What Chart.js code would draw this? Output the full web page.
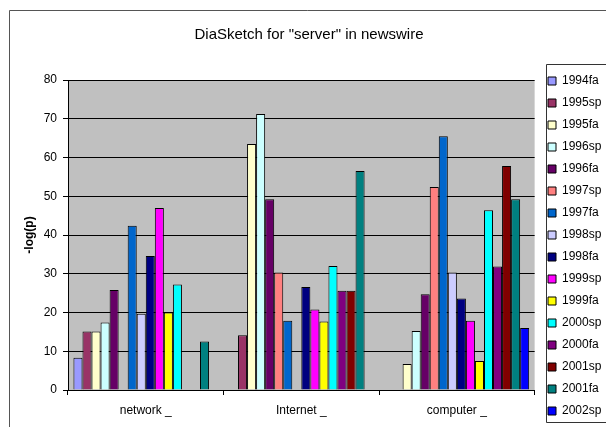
<!DOCTYPE html>
<html>
<head>
<meta charset="utf-8">
<script src="https://cdn.jsdelivr.net/npm/chart.js@4/dist/chart.umd.min.js"></script>
<style>
  html, body { margin: 0; padding: 0; background: #ffffff; }
  #wrap { width: 606px; height: 427px; position: relative; }
</style>
</head>
<body>
<div id="wrap"><canvas id="c" width="606" height="427"></canvas></div>
<script>
// ---- data ----
const categories = ["network _", "Internet _", "computer _"];
const seriesLabels = ["1994fa", "1995sp", "1995fa", "1996sp", "1996fa", "1997sp", "1997fa", "1998sp",
                      "1998fa", "1999sp", "1999fa", "2000sp", "2000fa", "2001sp", "2001fa", "2002sp"];
const networkValues  = [8.3, 15.1, 15.1, 17.4, 25.8, 0, 42.4, 19.7, 34.6, 47.0, 20.0, 27.2, 0, 0, 12.5, 0];
const internetValues = [0, 14.1, 63.5, 71.2, 49.2, 30.3, 17.9, 0, 26.6, 20.8, 17.7, 32.0, 25.6, 25.6, 56.5, 0];
const computerValues = [0, 0, 6.7, 15.2, 24.7, 52.4, 65.5, 30.3, 23.6, 17.9, 7.5, 46.4, 31.9, 57.8, 49.2, 16.0];
const yTicks = [0, 10, 20, 30, 40, 50, 60, 70, 80];

const seriesColors = ["#9999FF", "#993366", "#FFFFCC", "#CCFFFF", "#660066", "#FF8080", "#0066CC", "#CCCCFF",
                      "#000080", "#FF00FF", "#FFFF00", "#00FFFF", "#800080", "#800000", "#008080", "#0000FF"];

const datasets = seriesLabels.map((lab, i) => ({
  label: lab,
  data: [networkValues[i], internetValues[i], computerValues[i]],
  backgroundColor: seriesColors[i],
  borderColor: "#000000",
  borderWidth: 1,
  categoryPercentage: 0.93,
  barPercentage: 1.0
}));

const FONT = "'Liberation Sans', Arial, sans-serif";

const decor = {
  id: "decor",
  afterLayout(chart) {
    const lg = chart.legend;
    if (lg) {
      const w = lg.right - lg.left;
      lg.left = 538; lg.right = lg.left + w;
      lg.top = 65; lg.bottom = 440;
    }
    const tb = chart.titleBlock;
    if (tb) {
      const shift = 309 - (tb.left + tb.right) / 2;
      tb.left += shift; tb.right += shift;
    }
  },
  beforeDraw(chart) {
    const {ctx, chartArea: a} = chart;
    ctx.save();
    ctx.fillStyle = "#ffffff";
    ctx.fillRect(0, 0, chart.width, chart.height);
    ctx.fillStyle = "#C0C0C0";
    ctx.fillRect(a.left, a.top, a.right - a.left, a.bottom - a.top);
    // outer chart border
    ctx.strokeStyle = "#555555";
    ctx.lineWidth = 1;
    ctx.beginPath();
    ctx.moveTo(9.5, 427);
    ctx.lineTo(9.5, 10.5);
    ctx.lineTo(606, 10.5);
    ctx.stroke();
    // legend border
    ctx.strokeStyle = "#333333";
    ctx.beginPath();
    ctx.moveTo(610, 64.5);
    ctx.lineTo(546.5, 64.5);
    ctx.lineTo(546.5, 422.5);
    ctx.lineTo(610, 422.5);
    ctx.stroke();
    ctx.restore();
  }
};

new Chart(document.getElementById("c"), {
  type: "bar",
  data: { labels: categories, datasets },
  options: {
    responsive: false,
    animation: false,
    devicePixelRatio: 1,
    layout: { padding: { left: 10, top: 10, right: -2, bottom: 0 } },
    plugins: {
      title: {
        display: true,
        fullSize: false,
        text: 'DiaSketch for "server" in newswire',
        color: "#000000",
        font: { family: FONT, size: 15, weight: "normal" },
        padding: { top: 16, bottom: 36 }
      },
      legend: {
        display: true,
        position: "right",
        align: "start",
        fullSize: true,
        labels: {
          color: "#000000",
          font: { family: FONT, size: 12 },
          boxWidth: 8,
          boxHeight: 8,
          padding: 10
        }
      },
      tooltip: { enabled: false }
    },
    scales: {
      x: {
        offset: true,
        grid: {
          display: true,
          offset: true,
          drawOnChartArea: false,
          drawTicks: true,
          tickLength: 5,
          tickColor: "#000000",
          color: "#000000"
        },
        border: { display: true, color: "#000000", width: 1 },
        ticks: { color: "#000000", font: { family: FONT, size: 12 }, padding: 8, maxRotation: 0 },
        afterFit(scale) { scale.height = 37; }
      },
      y: {
        min: yTicks[0],
        max: yTicks[yTicks.length - 1],
        grid: {
          color: "#000000",
          lineWidth: 1,
          drawTicks: true,
          tickLength: 5,
          tickColor: "#000000"
        },
        border: { display: true, color: "#000000", width: 1 },
        ticks: {
          color: "#000000",
          font: { family: FONT, size: 12 },
          padding: 6,
          stepSize: yTicks[1] - yTicks[0]
        },
        title: {
          display: true,
          text: "-log(p)",
          color: "#000000",
          font: { family: FONT, size: 12, weight: "bold" },
          padding: { top: 12, bottom: 0 }
        },
        afterFit(scale) { scale.width = 58; }
      }
    }
  },
  plugins: [decor]
});
</script>
</body>
</html>
